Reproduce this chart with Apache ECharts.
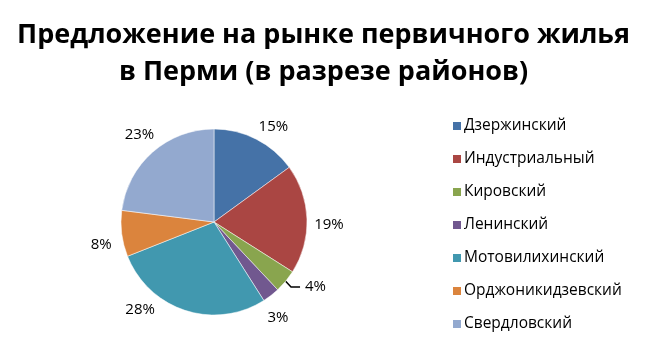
<!DOCTYPE html>
<html>
<head>
<meta charset="utf-8">
<script src="https://cdn.jsdelivr.net/npm/echarts@6/dist/echarts.min.js"></script>
<style>
  html, body { margin: 0; padding: 0; background: #fff; }
  #chart { width: 647px; height: 340px; }
</style>
</head>
<body>
<div id="chart"></div>
<script>
// районы и доли предложения, %
const districts = ["Дзержинский", "Индустриальный", "Кировский", "Ленинский",
  "Мотовилихинский", "Орджоникидзевский", "Свердловский"];
const shares = [15, 19, 4, 3, 28, 8, 23];
const colors = ["#4572A7", "#AA4643", "#89A54E", "#71588F", "#4198AF", "#DB843D", "#93A9CF"];

const CX = 214, CY = 222, R = 93;
// сдвиг подписи по кругу (градусы), как у Excel "по ширине"
const labelTurn = [5, 3, 0, 4, 22, -4, 1];

const total = shares.reduce((a, b) => a + b, 0);
let acc = 0;
const midAngles = shares.map((v) => {
  const m = (acc + v / 2) / total * 2 * Math.PI;
  acc += v;
  return m;
});

const chart = echarts.init(document.getElementById("chart"));

const data = districts.map((name, i) => ({
  name: name,
  value: shares[i],
  itemStyle: { color: colors[i] },
  // линия выноски только у маленького Кировского сектора
  labelLine: { show: i === 2, length: 9, length2: 9, lineStyle: { color: "#000", width: 1.5 } },
}));

chart.setOption({
  animation: false,
  title: {
    text: "Предложение на рынке первичного жилья\nв Перми (в разрезе районов)",
    left: "center",
    top: 12,
    textStyle: {
      fontFamily: "Open Sans",
      fontWeight: "bold",
      fontSize: 27,
      lineHeight: 37,
      color: "#000",
    },
  },
  legend: {
    orient: "vertical",
    left: 446,
    top: 113,
    itemWidth: 10,
    itemHeight: 10,
    itemGap: 17,
    icon: "rect",
    textStyle: { fontFamily: "Open Sans", fontSize: 15.5, lineHeight: 16, color: "#000", padding: [0, 0, 0, -3] },
  },
  series: [
    {
      type: "pie",
      center: [CX, CY],
      radius: R,
      startAngle: 90,
      clockwise: true,
      data: data,
      itemStyle: { borderColor: "#fff", borderWidth: 0.5 },
      label: {
        show: true,
        position: "outside",
        formatter: "{c}%",
        fontFamily: "Open Sans",
        fontSize: 15,
        color: "#000",
      },
      labelLine: { show: false },
      labelLayout: (p) => {
        const i = p.dataIndex;
        if (i === 2) return {};
        const a = midAngles[i] + labelTurn[i] * Math.PI / 180;
        const d = i === 0 ? R + 19 : R + 22;
        return {
          x: CX + d * Math.sin(a),
          y: CY - d * Math.cos(a),
          align: "center",
          verticalAlign: "middle",
        };
      },
      emphasis: { disabled: true },
    },
  ],
});
</script>
</body>
</html>
